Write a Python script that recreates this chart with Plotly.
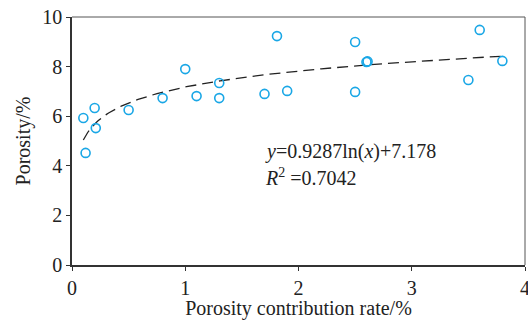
import numpy as np
import plotly.graph_objects as go

x_vals = [0.10, 0.12, 0.20, 0.21, 0.50, 0.80, 1.00, 1.10, 1.30, 1.30, 1.70, 1.81, 1.90, 2.50, 2.50, 2.60, 2.61, 3.50, 3.60, 3.80]
y_vals = [5.93, 4.52, 6.33, 5.52, 6.25, 6.73, 7.90, 6.81, 6.73, 7.34, 6.90, 9.23, 7.02, 8.99, 6.98, 8.19, 8.21, 7.46, 9.48, 8.23]
fit_a, fit_b = 0.9287, 7.178
fit_x = np.linspace(0.1, 3.8, 200)
fit_y = fit_a * np.log(fit_x) + fit_b

x_ticks = [0, 1, 2, 3, 4]
y_ticks = [0, 2, 4, 6, 8, 10]

font = "Liberation Serif"
fs = 20
fig = go.Figure()
fig.add_trace(go.Scatter(x=fit_x, y=fit_y, mode="lines",
                         line=dict(color="#222222", width=1.3, dash="11px,6px"),
                         hoverinfo="skip", showlegend=False))
fig.add_trace(go.Scatter(x=x_vals, y=y_vals, mode="markers",
                         marker=dict(symbol="circle-open", size=9, color="#1aa7e6",
                                     line=dict(width=1.6, color="#1aa7e6")),
                         showlegend=False))

axis_common = dict(showgrid=False, zeroline=False, ticks="outside", ticklen=4,
                   tickwidth=1, tickcolor="#333", linecolor="#333", linewidth=1.5,
                   tickfont=dict(family=font, size=fs, color="#222"),
                   ticklabeloverflow="allow", automargin=False)
fig.update_xaxes(range=[0, 4], tickvals=x_ticks, showline=True, mirror=False,
                 title=dict(text="Porosity contribution rate/%", font=dict(family=font, size=fs, color="#222"), standoff=4),
                 **axis_common)
fig.update_yaxes(range=[0, 10], tickvals=y_ticks, showline=True, mirror=False,
                 title=dict(text="Porosity/%", font=dict(family=font, size=fs, color="#222"), standoff=6),
                 **axis_common)

# thin top/right frame
fig.add_shape(type="line", xref="paper", yref="paper", x0=0, x1=1, y0=1, y1=1,
              line=dict(color="#555", width=1))
fig.add_shape(type="line", xref="paper", yref="paper", x0=1, x1=1, y0=0, y1=1,
              line=dict(color="#555", width=1))

fig.add_annotation(x=1.69, y=4.56, xref="x", yref="y", xanchor="left", yanchor="middle",
                   text="<i>y</i>=0.9287ln(<i>x</i>)+7.178", showarrow=False,
                   font=dict(family=font, size=fs, color="#222"))
fig.add_annotation(x=1.69, y=3.55, xref="x", yref="y", xanchor="left", yanchor="middle",
                   text="<i>R</i><sup>2</sup> =0.7042", showarrow=False,
                   font=dict(family=font, size=fs, color="#222"))

fig.update_layout(width=528, height=320, margin=dict(l=72, r=3, t=17, b=55),
                  plot_bgcolor="white", paper_bgcolor="white")
fig.write_html("out.html")
